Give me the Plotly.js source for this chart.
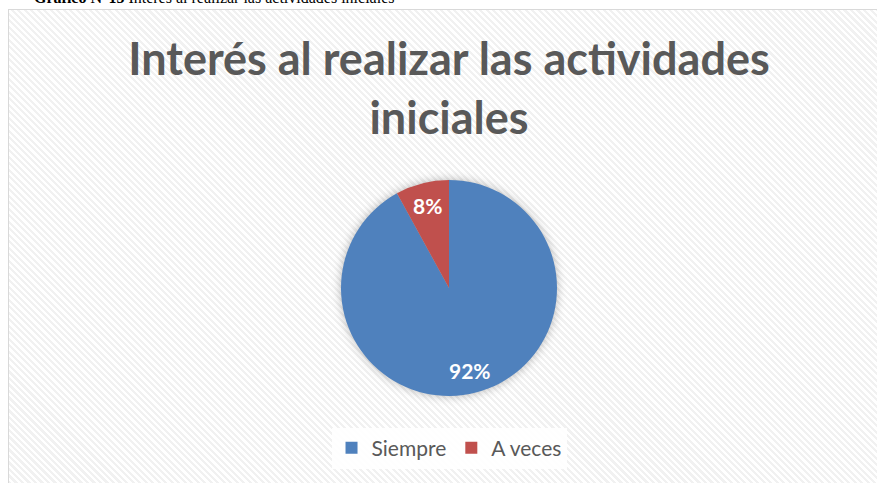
<!DOCTYPE html>
<html>
<head>
<meta charset="utf-8">
<script src="https://cdn.plot.ly/plotly-3.0.1.min.js"></script>
<style>
  html, body { margin:0; padding:0; width:877px; height:483px; overflow:hidden; background:#fff; }
  #caption { position:absolute; left:34px; top:-11px; font-family:"Liberation Serif","Times New Roman",serif; font-size:16px; color:#000; white-space:nowrap; }
  #frame { position:absolute; left:8px; top:9px; width:880px; height:490px; border:1px solid #d9d9d9;
    background: repeating-linear-gradient(45deg, #ffffff 0px, #ffffff 2.4px, #f1f1f1 2.4px, #f1f1f1 4.6px); }
  #chart { position:absolute; left:0; top:0; width:877px; height:483px; }
  .pielayer .trace { filter: drop-shadow(0px 0px 5px rgba(0,0,0,0.28)); }
</style>
</head>
<body>
<div id="caption"><b>Gráfico N°15</b> Interés al realizar las actividades iniciales</div>
<div id="frame"></div>
<div id="chart"></div>
<script>
const categories = ["Siempre", "A veces"];
const values = [23, 2];
const colors = ["#4f81bd", "#c0504d"];
const chartTitle = "Interés al realizar las actividades<br>iniciales";

const W = 877, H = 483;
const domX = [341 / W, 557 / W];
const domY = [1 - 396 / H, 1 - 180 / H];
const labelRadiusFrac = 0.79;

const trace = {
  type: "pie",
  labels: categories,
  values: values,
  sort: false,
  direction: "clockwise",
  rotation: 0,
  marker: { colors: colors, line: { color: "rgba(255,255,255,0)", width: 0 } },
  textinfo: "none",
  domain: { x: domX, y: domY },
  hoverinfo: "label+percent"
};

// data labels placed along each slice's mid-angle (clockwise from 12 o'clock)
const total = values.reduce((a, b) => a + b, 0);
const cx = (domX[0] + domX[1]) / 2, cy = (domY[0] + domY[1]) / 2;
const rx = (domX[1] - domX[0]) / 2, ry = (domY[1] - domY[0]) / 2;
let cum = 0;
const annotations = values.map((v) => {
  const mid = (cum + v / 2) / total * 2 * Math.PI;
  cum += v;
  return {
    xref: "paper", yref: "paper",
    x: cx + Math.sin(mid) * rx * labelRadiusFrac,
    y: cy + Math.cos(mid) * ry * labelRadiusFrac,
    text: Math.round(v / total * 100) + "%",
    showarrow: false,
    xanchor: "center", yanchor: "middle",
    font: { family: "Lato, sans-serif", size: 21, color: "#ffffff", weight: "bold" }
  };
});

const layout = {
  width: W, height: H,
  margin: { l: 0, r: 0, t: 0, b: 0 },
  paper_bgcolor: "rgba(0,0,0,0)",
  plot_bgcolor: "rgba(0,0,0,0)",
  title: {
    text: chartTitle,
    font: { family: "Lato, sans-serif", size: 45, color: "#595959", weight: "bold" },
    x: 0.512, xanchor: "center",
    y: 1 - 75 / H, yanchor: "middle"
  },
  annotations: annotations,
  showlegend: true,
  legend: {
    orientation: "h",
    x: 0.512, xanchor: "center",
    y: 1 - 448 / H, yanchor: "middle",
    bgcolor: "rgba(255,255,255,0.9)",
    font: { family: "Lato, sans-serif", size: 21, color: "#595959" },
    itemwidth: 30,
    traceorder: "normal"
  }
};

Plotly.newPlot("chart", [trace], layout, { displayModeBar: false, staticPlot: true });
</script>
</body>
</html>
